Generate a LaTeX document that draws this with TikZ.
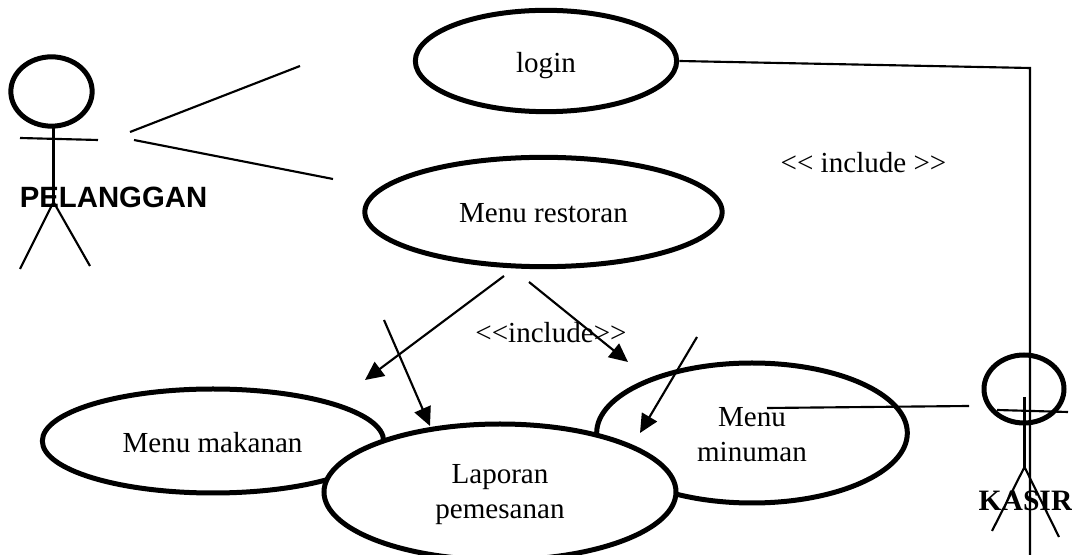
\documentclass[tikz,border=0pt]{standalone}
\usepackage{fontspec}
\setmainfont{Liberation Serif}
\newfontfamily\arialbold[BoldFont={Liberation Sans Bold}]{Liberation Sans}
\usetikzlibrary{shapes.geometric,arrows.meta}
\newcommand{\pxfont}{\fontsize{21.8pt}{26.3pt}\selectfont}
\newcommand{\ltt}{\textless\kern0pt\textless}
\newcommand{\gtt}{\textgreater\kern0pt\textgreater}
\tikzset{
  usecase/.style={ellipse,draw=black,fill=white,line width=3.75pt,inner sep=0pt,outer sep=2pt},
  head/.style={ellipse,draw=black,line width=3.75pt,inner sep=0pt,outer sep=0pt},
  thin line/.style={draw=black,line width=1.6pt},
  arrow line/.style={thin line,-{Triangle[length=14pt,width=13pt]}},
  label text/.style={inner sep=0pt,outer sep=0pt,font=\pxfont,anchor=base},
  case text/.style={label text,align=center}
}
\begin{document}
\begin{tikzpicture}[x=0.75pt,y=-0.75pt]
\useasboundingbox (0,0) rectangle (1072,555);
% use cases
\node[usecase,minimum width=196pt,minimum height=76pt] (login) at (546,61) {};
\node[usecase,minimum width=268pt,minimum height=82pt] (restoran) at (543.5,212) {};
\node[usecase,minimum width=256pt,minimum height=78pt] (makanan) at (213,441) {};
\node[usecase,minimum width=233pt,minimum height=105pt] (minuman) at (752,433) {};
\node[usecase,minimum width=264pt,minimum height=102pt] (laporan) at (500,492) {};
% use case texts
\node[label text] (logintext) at (546,73) {login};
\node[label text] (restorantext) at (543.5,223) {Menu restoran};
\node[label text] (makanantext) at (212.5,453) {Menu makanan};
\node[label text] (menutext) at (752,427) {Menu};
\node[label text] (minumantext) at (752,462) {minuman};
\node[label text] (laporantext) at (500,484) {Laporan};
\node[label text] (pemesanantext) at (500,519) {pemesanan};
% free ends
\coordinate (c1) at (130,132); \coordinate (c2) at (300,66);
\coordinate (c3) at (134,140); \coordinate (c4) at (333,179);
\coordinate (corner) at (1030,68); \coordinate (bottom) at (1030,555);
\coordinate (a1) at (504,276); \coordinate (a2) at (365,380);
\coordinate (a3) at (529,282); \coordinate (a4) at (628,362);
\coordinate (a5) at (384,320); \coordinate (a6) at (430,426);
\coordinate (a7) at (697,337); \coordinate (a8) at (640,433);
\coordinate (k1) at (767,408); \coordinate (k2) at (969,406);
% pelanggan
\node[head,minimum width=61pt,minimum height=52pt] (phead) at (51.5,91.5) {};
\coordinate (pa) at (20,138); \coordinate (pb) at (98,140);
\coordinate (ph) at (53.5,202); \coordinate (pl) at (20,269); \coordinate (pr) at (90,266);
\draw[thin line] (53.5,128) -- (ph);
\draw[thin line] (pa) -- (pb);
\draw[thin line] (pl) -- (ph) -- (pr);
\node[label text,font=\arialbold\bfseries\fontsize{22pt}{26pt}\selectfont] (pelanggan) at (113.5,208) {PELANGGAN};
% kasir
\node[head,minimum width=60pt,minimum height=51pt] (khead) at (1024,389) {};
\coordinate (ka) at (997,410); \coordinate (kb) at (1068,412);
\coordinate (kt) at (1024.5,397); \coordinate (kh) at (1024.5,467);
\coordinate (kl) at (992,531); \coordinate (kr) at (1059,537);
\draw[thin line] (kt) -- (kh);
\draw[thin line] (ka) -- (kb);
\draw[thin line] (kl) -- (kh) -- (kr);
\node[label text,font=\bfseries\fontsize{22.2pt}{26pt}\selectfont] (kasir) at (1025.5,511) {KASIR};
% connectors
\draw[thin line] (c1) -- (c2);
\draw[thin line] (c3) -- (c4);
\draw[thin line] (login.east) -- (corner) -- (bottom);
\draw[thin line] (k1) -- (k2);
\draw[arrow line] (a1) -- (a2);
\draw[arrow line] (a3) -- (a4);
\draw[arrow line] (a5) -- (a6);
\draw[arrow line] (a7) -- (a8);
% labels
\node[label text] (inc1) at (863.5,173) {\ltt{} include \gtt};
\node[label text] (inc2) at (551,343) {\ltt include\gtt};
\end{tikzpicture}
\end{document}
